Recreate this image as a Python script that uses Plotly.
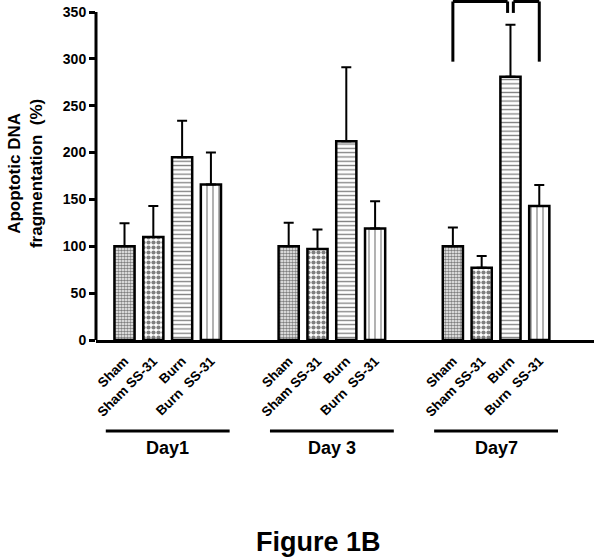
import plotly.graph_objects as go

# ---- data ----
days = ["Day1", "Day 3", "Day7"]
treatments = ["Sham", "Sham SS-31", "Burn", "Burn\u00a0\u00a0SS-31"]
sham = [100, 100, 100]
sham_ss31 = [110, 97, 77]
burn = [195, 212, 281]
burn_ss31 = [166, 119, 143]
sham_err = [24.5, 25, 20]
sham_ss31_err = [33, 21, 12.5]
burn_err = [39, 79, 55.5]
burn_ss31_err = [34, 29, 22.5]
y_ticks = [0, 50, 100, 150, 200, 250, 300, 350]

values = [sham, sham_ss31, burn, burn_ss31]
errors = [sham_err, sham_ss31_err, burn_err, burn_ss31_err]
patterns = [
    dict(shape=".", size=3, solidity=0.6, fgcolor="black", bgcolor="white"),
    dict(shape=".", size=5, solidity=0.55, fgcolor="black", bgcolor="white"),
    dict(shape="-", size=4.3, solidity=0.3, fgcolor="black", bgcolor="white"),
    dict(shape="|", size=6, solidity=0.2, fgcolor="black", bgcolor="white"),
]

GROUP_STEP = 5.7
def pos(g, i):
    return g * GROUP_STEP + i

FONT = "Liberation Sans, Arial, Helvetica, sans-serif"

fig = go.Figure()
for i, (vals, errs, pat) in enumerate(zip(values, errors, patterns)):
    fig.add_trace(go.Bar(
        x=[pos(g, i) for g in range(len(days))],
        y=vals,
        width=0.7,
        marker=dict(color="white", line=dict(color="black", width=2.5), pattern=pat),
        error_y=dict(type="data", symmetric=False, array=errs,
                     arrayminus=[0] * len(errs), color="black", thickness=2, width=5),
        showlegend=False,
    ))

tickvals = [pos(g, i) for g in range(len(days)) for i in range(len(treatments))]
ticktext = [t for g in range(len(days)) for t in treatments]

shapes = []
# y axis line (only up to 350)
shapes.append(dict(type="line", xref="paper", yref="y", x0=0, x1=0, y0=0, y1=350,
                   line=dict(color="black", width=3)))
# group underlines
for g in range(len(days)):
    c = pos(g, 1.5)
    shapes.append(dict(type="line", xref="x", yref="paper", x0=c - 2.15, x1=c + 2.15,
                       y0=-0.268, y1=-0.268, line=dict(color="black", width=3)))
# significance brackets (Day7)
xa, xb, xc = pos(2, 0), pos(2, 2), pos(2, 3)
top, low, mid = 361.2, 297, 349
br = dict(color="black", width=3)
shapes += [
    dict(type="line", xref="x", yref="y", x0=xa, x1=xa, y0=low, y1=top, line=br),
    dict(type="line", xref="x", yref="y", x0=xa, x1=xb - 0.1, y0=top, y1=top, line=br),
    dict(type="line", xref="x", yref="y", x0=xb - 0.1, x1=xb - 0.1, y0=mid, y1=top, line=br),
    dict(type="line", xref="x", yref="y", x0=xb + 0.1, x1=xb + 0.1, y0=mid, y1=top, line=br),
    dict(type="line", xref="x", yref="y", x0=xb + 0.1, x1=xc, y0=top, y1=top, line=br),
    dict(type="line", xref="x", yref="y", x0=xc, x1=xc, y0=low, y1=top, line=br),
]

annotations = []
for g, d in enumerate(days):
    annotations.append(dict(text=d, x=pos(g, 1.5), xref="x", y=-0.318, yref="paper",
                            showarrow=False, xanchor="center", yanchor="middle",
                            font=dict(family=FONT, size=18, color="black", weight="bold")))
annotations.append(dict(text="Apoptotic DNA<br>fragmentation  (%)", textangle=-90,
                        x=-0.1426, xref="paper", y=0.491, yref="paper", showarrow=False,
                        xanchor="center", yanchor="middle",
                        font=dict(family=FONT, size=17, color="black", weight="bold")))
annotations.append(dict(text="Figure 1B", x=0.447, xref="paper", y=-0.593, yref="paper",
                        showarrow=False, xanchor="center", yanchor="middle",
                        font=dict(family=FONT, size=27, color="black", weight="bold")))

fig.update_layout(
    width=601, height=559,
    margin=dict(l=96, r=7, t=0, b=219),
    paper_bgcolor="white", plot_bgcolor="white",
    barmode="overlay",
    shapes=shapes, annotations=annotations,
    xaxis=dict(range=[-0.99, 16.30], tickmode="array", tickvals=tickvals, ticktext=ticktext,
               tickangle=-45, ticks="outside", ticklen=5, tickcolor="rgba(0,0,0,0)",
               showline=True, linewidth=3, linecolor="black", automargin=False,
               showgrid=False, zeroline=False,
               tickfont=dict(family=FONT, size=13.5, color="black", weight="bold")),
    yaxis=dict(range=[0, 362.8], tickmode="array", tickvals=y_ticks, ticks="outside",
               ticklen=6, tickwidth=3, tickcolor="black", showline=False, showgrid=False,
               zeroline=False, automargin=False,
               tickfont=dict(family=FONT, size=14, color="black", weight="bold")),
)

fig.write_html("out.html", config={"displayModeBar": False},
               post_script="document.body.style.margin='0';document.body.style.padding='0';")
